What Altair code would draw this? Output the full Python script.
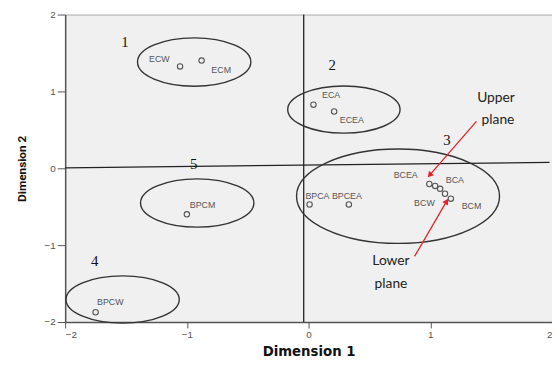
import altair as alt
import pandas as pd

# ---- data (data units) ----
pt_name = ["ECW", "ECM", "ECA", "ECEA", "BCEA", "BCA", "", "BCW", "BCM",
           "BPCA", "BPCEA", "BPCM", "BPCW"]
pt_x = [-1.056, -0.879, 0.040, 0.210, 0.992, 1.040, 1.081, 1.121, 1.169,
        0.008, 0.331, -1.000, -1.750]
pt_y = [1.325, 1.401, 0.828, 0.739, -0.204, -0.229, -0.267, -0.331, -0.395,
        -0.471, -0.471, -0.599, -1.873]

lab_text = ["ECW", "ECM", "ECA", "ECEA", "BCEA", "BCA", "BCW", "BCM",
            "BPCA", "BPCEA", "BPCM", "BPCW"]
lab_x = [-1.226, -0.718, 0.185, 0.355, 0.798, 1.202, 0.952, 1.339,
         0.073, 0.315, -0.871, -1.629]
lab_y = [1.426, 1.274, 0.955, 0.624, -0.089, -0.153, -0.446, -0.497,
         -0.357, -0.357, -0.484, -1.745]

grp_text = ["1", "2", "3", "4", "5"]
grp_x = [-1.508, 0.194, 1.137, -1.758, -0.944]
grp_y = [1.643, 1.338, 0.369, -1.210, 0.051]

ell_x = [-0.940, 0.290, 0.735, -1.528, -0.915]
ell_y = [1.382, 0.764, -0.363, -1.707, -0.452]
ell_w = [115, 114, 206, 115, 115]      # outline width in px
ell_ratio = [0.426, 0.42, 0.465, 0.417, 0.426]

note_text = ["Upper", "plane", "Lower", "plane"]
note_x = [1.540, 1.556, 0.677, 0.677]
note_y = [0.917, 0.624, -1.210, -1.503]

arr_x = [1.379, 0.871]
arr_y = [0.611, -1.146]
arr_x2 = [1.000, 1.130]
arr_y2 = [-0.080, -0.440]
arr_angle = [221, 31]

ref_x = [-2.0, -0.040]
ref_y = [0.006, -2.0]
ref_x2 = [1.98, -0.040]
ref_y2 = [0.076, 2.0]

# ---- tables ----
pts = pd.DataFrame({"x": pt_x, "y": pt_y, "name": pt_name})
labs = pd.DataFrame({"x": lab_x, "y": lab_y, "t": lab_text})
grps = pd.DataFrame({"x": grp_x, "y": grp_y, "t": grp_text})
ells = pd.DataFrame({
    "x": ell_x, "y": ell_y,
    "size": [w * w for w in ell_w],
    "shape": [f"M-1,0 A1,{r} 0 1,1 1,0 A1,{r} 0 1,1 -1,0 Z" for r in ell_ratio],
})
notes = pd.DataFrame({"x": note_x, "y": note_y, "t": note_text})
arrs = pd.DataFrame({"x": arr_x, "y": arr_y, "x2": arr_x2, "y2": arr_y2, "a": arr_angle})
refs = pd.DataFrame({"x": ref_x, "y": ref_y, "x2": ref_x2, "y2": ref_y2})

xs = alt.Scale(domain=[-2, 2], nice=False, zero=False)
ys = alt.Scale(domain=[-2, 2], nice=False, zero=False)

X = alt.X("x:Q", scale=xs, title="Dimension 1",
          axis=alt.Axis(values=[-2, -1, 0, 1, 2], format="d", grid=False, tickSize=6,
                        labelFontSize=10, labelColor="#555", domainColor="#555",
                        domainWidth=1.5, tickColor="#555", labelPadding=2,
                        titleFont="DejaVu Sans", titleFontWeight="bold",
                        titleFontSize=13.5, titleColor="#111", titlePadding=5))
Y = alt.Y("y:Q", scale=ys, title="Dimension 2",
          axis=alt.Axis(values=[-2, -1, 0, 1, 2], format="d", grid=False, tickSize=8,
                        labelFontSize=10, labelColor="#555", domainColor="#555",
                        domainWidth=1.5, tickColor="#555", labelPadding=2,
                        titleFont="Roboto", titleFontWeight="bold",
                        titleFontSize=12, titleColor="#111", titlePadding=16))

refl = alt.Chart(refs).mark_rule(color="#222", strokeWidth=1.3).encode(
    x=X, y=Y, x2="x2:Q", y2="y2:Q")

ell = alt.Chart(ells).mark_point(filled=False, color="#333", strokeWidth=1.4, opacity=1).encode(
    x="x:Q", y="y:Q",
    size=alt.Size("size:Q", scale=None),
    shape=alt.Shape("shape:N", scale=None))

dots = alt.Chart(pts).mark_point(shape="circle", filled=False, color="#555",
                                 size=30, strokeWidth=1.1, opacity=1).encode(
    x="x:Q", y="y:Q")

labt = alt.Chart(labs).mark_text(font="Liberation Sans", fontSize=9, color="#555",
                                 align="center", baseline="middle").encode(
    x="x:Q", y="y:Q", text="t:N")

grpt = alt.Chart(grps).mark_text(font="Liberation Serif", fontSize=15, color="#111",
                                 align="center", baseline="middle").encode(
    x="x:Q", y="y:Q", text="t:N")

notet = alt.Chart(notes).mark_text(font="Lato", fontSize=14, color="#222",
                                   align="center", baseline="middle").encode(
    x="x:Q", y="y:Q", text="t:N")

arrl = alt.Chart(arrs).mark_rule(color="#e8202a", strokeWidth=1.3).encode(
    x="x:Q", y="y:Q", x2="x2:Q", y2="y2:Q")

arrh = alt.Chart(arrs).mark_point(shape="triangle", filled=True, color="#e8202a",
                                  size=45, opacity=1).encode(
    x="x2:Q", y="y2:Q", angle=alt.Angle("a:Q", scale=None))

chart = alt.layer(refl, ell, dots, labt, grpt, notet, arrl, arrh).properties(
    width=494, height=312,
    autosize=alt.AutoSizeParams(type="none"),
    padding={"left": 58, "top": 4, "right": 0, "bottom": 44},
    background="white",
).configure_view(fill="#f0f0f0", stroke="#aaa", strokeWidth=1)

chart.save("out.html", embed_options={"renderer": "svg", "actions": False})
